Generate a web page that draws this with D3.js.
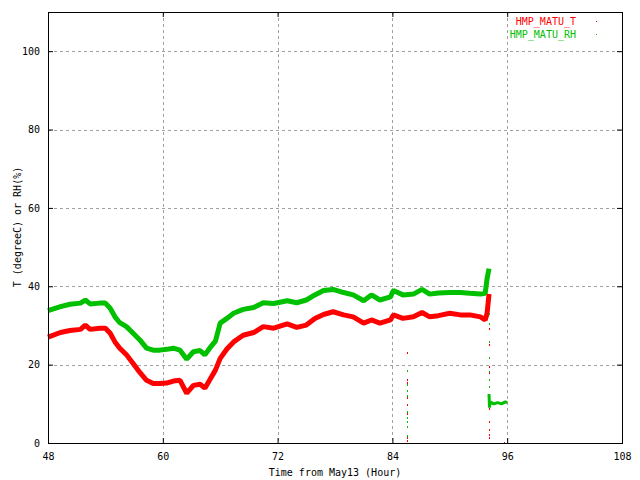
<!DOCTYPE html>
<html>
<head>
<meta charset="utf-8">
<script src="https://cdn.jsdelivr.net/npm/d3@7"></script>
<style>
  html, body { margin: 0; padding: 0; background: #fff; }
  svg { display: block; }
  text { font-family: "DejaVu Sans Mono", monospace; font-size: 10px; }
</style>
</head>
<body>
<svg id="chart" width="640" height="480"></svg>
<script>
// ---- data ----
const hours = [48.0, 49.3, 50.3, 51.4, 51.9, 52.4, 53.4, 54.0, 54.5, 55.0, 55.5, 56.2, 56.9, 57.6, 58.3, 59.0, 59.7, 60.4, 61.1, 61.8, 62.5, 63.2, 63.9, 64.4, 64.9, 65.5, 66.0, 66.7, 67.4, 68.4, 69.5, 70.5, 71.6, 73.0, 74.0, 75.0, 75.9, 76.8, 77.8, 78.9, 79.9, 81.0, 81.8, 82.7, 83.8, 84.1, 85.1, 86.2, 87.1, 87.9, 88.8, 90.0, 91.1, 92.1, 93.2, 93.7, 93.9, 94.1];
const tempT = [27.0, 28.2, 28.7, 29.0, 30.1, 29.0, 29.3, 29.3, 28.0, 25.8, 24.2, 22.5, 20.3, 18.0, 16.0, 15.2, 15.2, 15.3, 15.8, 16.0, 12.7, 14.7, 15.0, 14.0, 16.1, 18.6, 21.6, 24.0, 25.8, 27.5, 28.2, 29.7, 29.3, 30.4, 29.5, 30.1, 31.8, 32.8, 33.5, 32.7, 32.2, 30.6, 31.4, 30.6, 31.4, 32.7, 31.8, 32.2, 33.3, 32.2, 32.5, 33.1, 32.7, 32.7, 32.2, 31.4, 33.1, 38.0];
const humRH = [33.8, 34.8, 35.4, 35.7, 36.5, 35.5, 35.7, 35.7, 34.4, 32.2, 30.7, 29.7, 28.0, 26.3, 24.2, 23.7, 23.7, 23.9, 24.2, 23.7, 21.4, 23.3, 23.6, 22.5, 24.2, 26.0, 30.6, 31.8, 33.1, 34.1, 34.6, 35.8, 35.6, 36.3, 35.8, 36.5, 37.8, 38.9, 39.2, 38.4, 37.8, 36.3, 37.8, 36.5, 37.3, 38.9, 37.8, 38.0, 39.2, 38.0, 38.3, 38.4, 38.4, 38.2, 38.0, 38.2, 42.0, 44.5];
// second (low) RH segment after the jump
const tailHours = [94.1, 94.15, 94.2, 94.6, 95.0, 95.4, 95.8, 96.0];
const tailRH = [12.5, 9.0, 10.5, 10.0, 10.3, 10.0, 10.5, 10.3];
// scattered single readings
const dotsT_h = [85.56, 85.56, 85.56, 85.56, 85.56, 85.56, 85.56, 85.56, 94.1, 94.1, 94.1, 94.1, 94.1, 94.1, 94.1, 94.1, 94.1, 95.7];
const dotsT_v = [22.9, 16.1, 15.4, 11.6, 9.7, 7.3, 1.2, 0.5, 29.0, 25.0, 19.3, 17.9, 8.7, 5.4, 3.3, 2.0, 1.2, 0.1];
const dotsRH_h = [85.56, 85.56, 85.56, 85.56, 85.56, 85.56, 85.56, 85.56, 85.56, 85.56, 85.56, 94.1, 94.1, 94.1, 94.1, 94.1, 94.1, 94.1];
const dotsRH_v = [18.5, 14.8, 13.3, 12.1, 11.6, 9.7, 8.0, 6.5, 5.4, 4.2, 1.9, 33.0, 30.4, 25.9, 21.7, 18.2, 16.1, 14.4];

const xTicks = [48, 60, 72, 84, 96, 108];
const yTicks = [0, 20, 40, 60, 80, 100];
const seriesNames = ["HMP_MATU_T", "HMP_MATU_RH"];
const seriesColors = ["#ff0000", "#00c000"];

// ---- layout ----
const svg = d3.select("#chart");
const L = 48, R = 622, T = 12, B = 443;
const x = d3.scaleLinear().domain([48, 108]).range([L, R]);
const y = d3.scaleLinear().domain([0, 110]).range([B, T]);

// grid
const grid = svg.append("g").attr("stroke", "#a0a0a0").attr("stroke-dasharray", "3,3").attr("stroke-width", 1);
xTicks.filter(v => v > 48 && v < 108).forEach(v => {
  grid.append("line").attr("x1", Math.round(x(v)) + 0.5).attr("x2", Math.round(x(v)) + 0.5).attr("y1", T).attr("y2", B);
});
yTicks.filter(v => v > 0).forEach(v => {
  grid.append("line").attr("x1", L).attr("x2", R).attr("y1", Math.round(y(v)) + 0.5).attr("y2", Math.round(y(v)) + 0.5);
});

// series
const line = d3.line().x(d => x(d[0])).y(d => y(d[1]));
const rhData = hours.map((h, i) => [h, humRH[i]]);
const tData = hours.map((h, i) => [h, tempT[i]]);
const tailData = tailHours.map((h, i) => [h, tailRH[i]]);

svg.append("path").datum(rhData).attr("d", line).attr("fill", "none")
  .attr("stroke", seriesColors[1]).attr("stroke-width", 5).attr("stroke-linejoin", "bevel");
svg.append("path").datum(tailData).attr("d", line).attr("fill", "none")
  .attr("stroke", seriesColors[1]).attr("stroke-width", 3).attr("stroke-linejoin", "bevel");
svg.append("path").datum(tData).attr("d", line).attr("fill", "none")
  .attr("stroke", seriesColors[0]).attr("stroke-width", 5).attr("stroke-linejoin", "bevel");

svg.append("g").selectAll("rect").data(dotsRH_h.map((h, i) => [h, dotsRH_v[i]])).join("rect")
  .attr("x", d => Math.round(x(d[0]))).attr("y", d => Math.round(y(d[1])) - 1)
  .attr("width", 1).attr("height", 2).attr("fill", seriesColors[1]);
svg.append("g").selectAll("rect").data(dotsT_h.map((h, i) => [h, dotsT_v[i]])).join("rect")
  .attr("x", d => Math.round(x(d[0]))).attr("y", d => Math.round(y(d[1])) - 1)
  .attr("width", 1).attr("height", 2).attr("fill", seriesColors[0]);

// axes (gnuplot-like: inward ticks on all four sides)
const axB = d3.axisBottom(x).tickValues(xTicks).tickSizeInner(-5).tickSizeOuter(0).tickPadding(10);
const axT = d3.axisTop(x).tickValues(xTicks).tickSizeInner(-5).tickSizeOuter(0).tickFormat("");
const axL = d3.axisLeft(y).tickValues(yTicks).tickSizeInner(-5).tickSizeOuter(0).tickPadding(8);
const axR = d3.axisRight(y).tickValues(yTicks).tickSizeInner(-5).tickSizeOuter(0).tickFormat("");
function style(g) {
  g.select(".domain").remove();
  g.selectAll("line").attr("stroke", "#000");
  g.selectAll("text").attr("fill", "#000").style("font-family", "DejaVu Sans Mono").style("font-size", "10px");
}
svg.append("g").attr("transform", `translate(0,${B})`).call(axB).call(style);
svg.append("g").attr("transform", `translate(0,${T})`).call(axT).call(style);
svg.append("g").attr("transform", `translate(${L},0)`).call(axL).call(style);
svg.append("g").attr("transform", `translate(${R},0)`).call(axR).call(style);

// frame
svg.append("rect").attr("x", L + 0.5).attr("y", T + 0.5).attr("width", R - L).attr("height", B - T)
  .attr("fill", "none").attr("stroke", "#000").attr("stroke-width", 1);

// labels
svg.append("text").attr("x", 335).attr("y", 476).attr("text-anchor", "middle").text("Time from May13 (Hour)");
svg.append("text").attr("transform", "translate(17,227) rotate(-90)").attr("text-anchor", "middle")
  .attr("dy", "0.35em").text("T (degreeC) or RH(%)");

// legend
seriesNames.forEach((n, i) => {
  const yy = 21 + i * 13;
  svg.append("text").attr("x", 576).attr("y", yy).attr("dy", "0.35em").attr("text-anchor", "end")
    .attr("fill", seriesColors[i]).text(n);
  svg.append("rect").attr("x", 596).attr("y", yy).attr("width", 1).attr("height", 1).attr("fill", seriesColors[i]);
});
</script>
</body>
</html>
